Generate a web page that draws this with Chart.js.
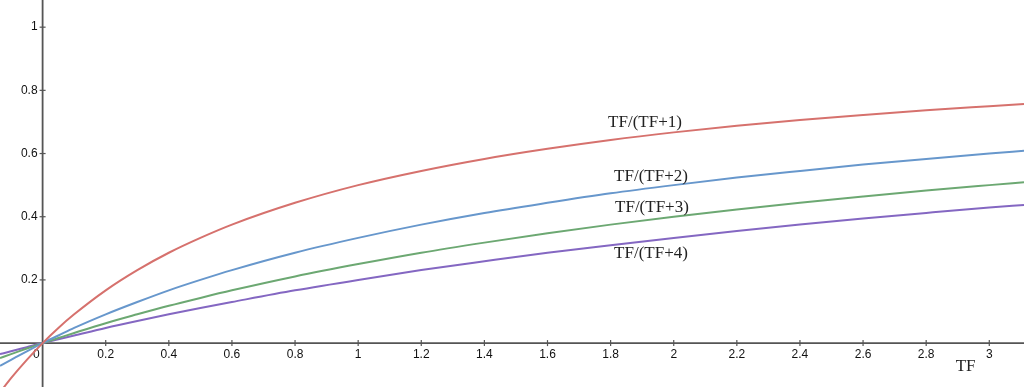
<!DOCTYPE html>
<html>
<head>
<meta charset="utf-8">
<script src="https://cdn.jsdelivr.net/npm/chart.js@4/dist/chart.umd.min.js"></script>
<style>
  html, body { margin: 0; padding: 0; background: #fff; }
  #wrap { width: 1024px; height: 387px; position: relative; }
</style>
</head>
<body>
<div id="wrap"><canvas id="grafico"></canvas></div>
<script>
// valores
const tf = [-0.135, -0.1, -0.05, 0, 0.05, 0.1, 0.2, 0.3, 0.4, 0.5, 0.6, 0.8, 1.0, 1.2, 1.4, 1.6, 1.8, 2.0, 2.2, 2.4, 2.6, 2.8, 3.0, 3.11];
const k1 = [-0.156, -0.111, -0.053, 0, 0.048, 0.091, 0.167, 0.231, 0.286, 0.333, 0.375, 0.444, 0.5, 0.545, 0.583, 0.615, 0.643, 0.667, 0.688, 0.706, 0.722, 0.737, 0.75, 0.757];
const k2 = [-0.072, -0.053, -0.026, 0, 0.024, 0.048, 0.091, 0.130, 0.167, 0.2, 0.231, 0.286, 0.333, 0.375, 0.412, 0.444, 0.474, 0.5, 0.524, 0.545, 0.565, 0.583, 0.6, 0.609];
const k3 = [-0.047, -0.035, -0.017, 0, 0.016, 0.032, 0.063, 0.091, 0.118, 0.143, 0.167, 0.211, 0.25, 0.286, 0.318, 0.348, 0.375, 0.4, 0.423, 0.444, 0.464, 0.483, 0.5, 0.509];
const k4 = [-0.035, -0.026, -0.013, 0, 0.012, 0.024, 0.048, 0.070, 0.091, 0.111, 0.130, 0.167, 0.2, 0.231, 0.259, 0.286, 0.310, 0.333, 0.355, 0.375, 0.394, 0.412, 0.429, 0.437];

const xTicks = [0.2, 0.4, 0.6, 0.8, 1, 1.2, 1.4, 1.6, 1.8, 2, 2.2, 2.4, 2.6, 2.8, 3];
const yTicks = [0.2, 0.4, 0.6, 0.8, 1];

// rotulos das curvas: [texto, x, y] em unidades do grafico
const rotulos = [
  ['TF/(TF+1)', 1.909, 0.697],
  ['TF/(TF+2)', 1.928, 0.526],
  ['TF/(TF+3)', 1.931, 0.428],
  ['TF/(TF+4)', 1.928, 0.282]
];

function pontos(ys) {
  return tf.map((x, i) => ({ x: x, y: ys[i] }));
}

// eixos estilo desmos
const eixos = {
  id: 'eixos',
  beforeDatasetsDraw(chart) {
    const c = chart.ctx;
    const sx = chart.scales.x, sy = chart.scales.y;
    const x0 = sx.getPixelForValue(0), y0 = sy.getPixelForValue(0);
    const area = chart.chartArea;
    c.save();
    c.strokeStyle = '#555';
    c.lineWidth = 1.8;
    c.beginPath();
    c.moveTo(x0, area.top); c.lineTo(x0, area.bottom);
    c.moveTo(area.left, y0); c.lineTo(area.right, y0);
    c.stroke();

    c.lineWidth = 1.2;
    c.fillStyle = '#111';
    c.font = '12px "Liberation Sans", Arial, sans-serif';
    c.textAlign = 'center';
    c.textBaseline = 'top';
    xTicks.forEach(v => {
      const px = sx.getPixelForValue(v);
      c.beginPath(); c.moveTo(px, y0 - 3); c.lineTo(px, y0 + 3); c.stroke();
      c.fillText(String(v), px, y0 + 6);
    });
    c.textAlign = 'right';
    c.textBaseline = 'middle';
    yTicks.forEach(v => {
      const py = sy.getPixelForValue(v);
      c.beginPath(); c.moveTo(x0 - 3, py); c.lineTo(x0 + 3, py); c.stroke();
      c.fillText(String(v), x0 - 5, py);
    });
    c.textBaseline = 'top';
    c.fillText('0', x0 - 3, y0 + 6);
    c.restore();
  },
  afterDatasetsDraw(chart) {
    const c = chart.ctx;
    const sx = chart.scales.x, sy = chart.scales.y;
    c.save();
    c.fillStyle = '#222';
    c.font = '17px "Liberation Serif", "Times New Roman", serif';
    c.textAlign = 'center';
    c.textBaseline = 'middle';
    rotulos.forEach(r => c.fillText(r[0], sx.getPixelForValue(r[1]), sy.getPixelForValue(r[2])));
    c.font = '17px "Liberation Serif", "Times New Roman", serif';
    c.fillText('TF', sx.getPixelForValue(2.925), sy.getPixelForValue(-0.075));
    c.restore();
  }
};

const ctx = document.getElementById('grafico').getContext('2d');
const grafico = new Chart(ctx, {
  type: 'scatter',
  data: {
    datasets: [
      { data: pontos(k1), borderColor: '#d6716d' },
      { data: pontos(k2), borderColor: '#6797cc' },
      { data: pontos(k3), borderColor: '#6ca872' },
      { data: pontos(k4), borderColor: '#8467c2' }
    ]
  },
  options: {
    responsive: true,
    maintainAspectRatio: false,
    animation: false,
    showLine: true,
    layout: { padding: 0 },
    elements: {
      point: { radius: 0, hoverRadius: 0 },
      line: { borderWidth: 2, tension: 0.4, cubicInterpolationMode: 'monotone' }
    },
    scales: {
      x: { type: 'linear', min: -0.135, max: 3.11, display: false },
      y: { type: 'linear', min: -0.139, max: 1.086, display: false }
    },
    plugins: {
      legend: { display: false },
      tooltip: { enabled: false }
    }
  },
  plugins: [eixos]
});
</script>
</body>
</html>
